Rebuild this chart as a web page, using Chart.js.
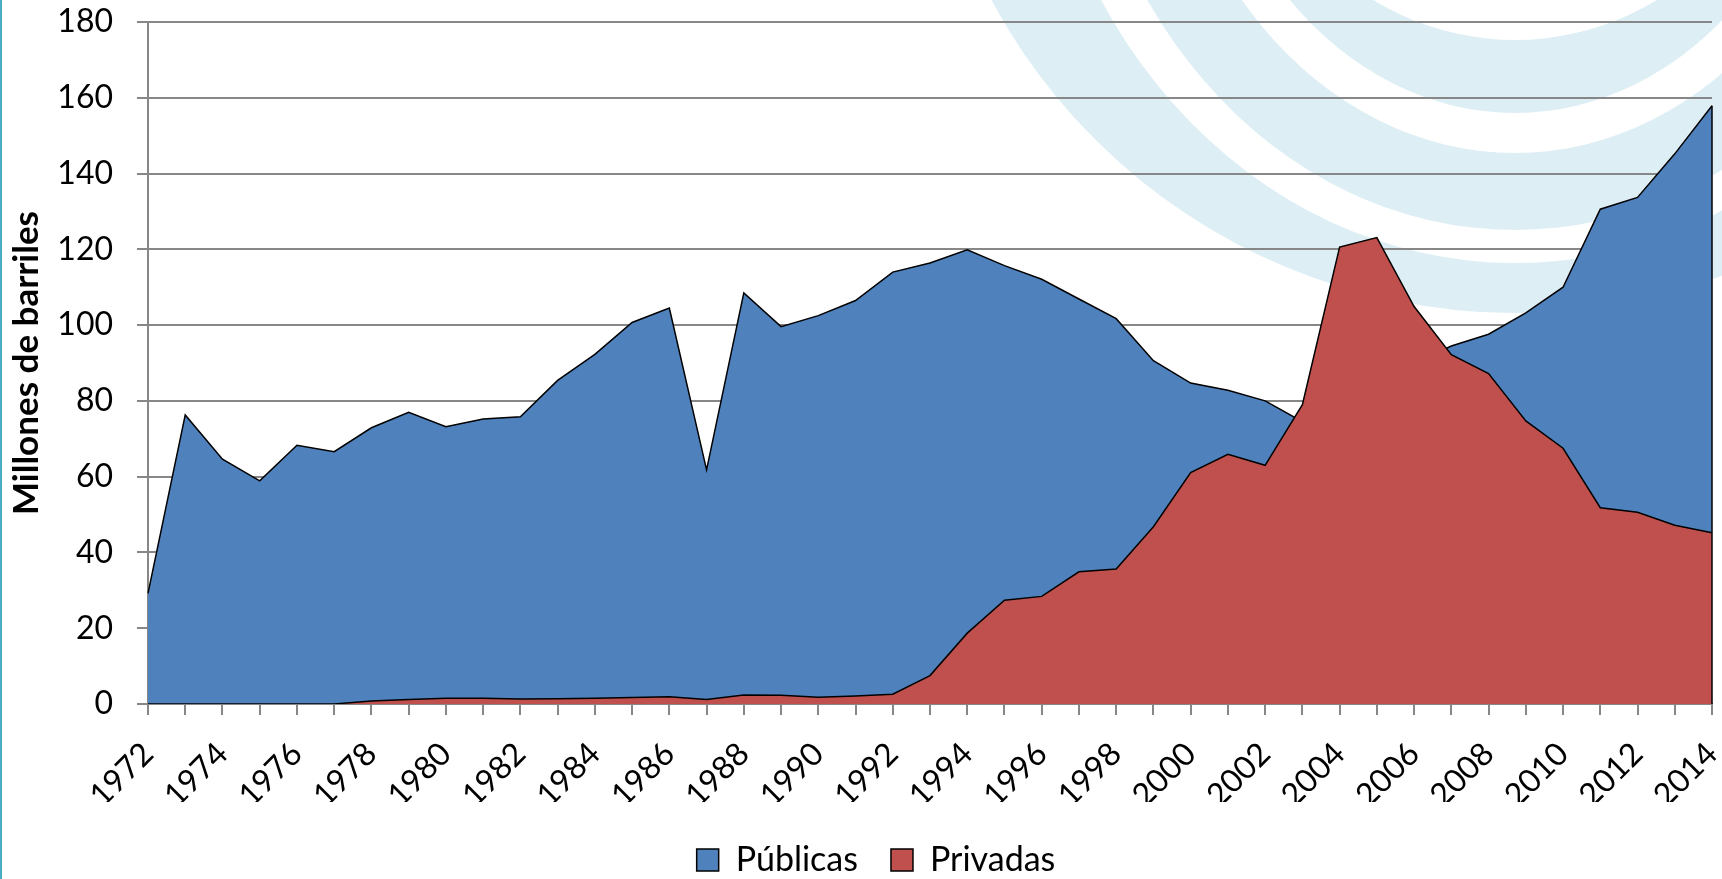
<!DOCTYPE html>
<html><head><meta charset="utf-8">
<script src="https://cdn.jsdelivr.net/npm/chart.js@4.4.0/dist/chart.umd.min.js"></script>
<style>html,body{margin:0;padding:0;background:#fff;}canvas{display:block;}</style>
</head><body>
<canvas id="c" width="1722" height="879"></canvas>
<script>
// ---- data ----
const years = ["1972","1973","1974","1975","1976","1977","1978","1979","1980","1981","1982","1983","1984","1985","1986","1987","1988","1989","1990","1991","1992","1993","1994","1995","1996","1997","1998","1999","2000","2001","2002","2003","2004","2005","2006","2007","2008","2009","2010","2011","2012","2013","2014"];
const publicas = [29.2,76.3,64.6,58.9,68.3,66.6,72.9,77.0,73.2,75.2,75.8,85.4,92.3,100.7,104.5,61.8,108.5,99.6,102.5,106.5,114.0,116.4,119.9,115.7,112.1,106.9,101.7,90.6,84.7,82.8,80.0,74.5,78.0,84.0,90.0,94.5,97.6,103.2,110.0,130.6,133.7,145.2,157.9];
const privadas = [0,0,0,0,0,0,0.8,1.2,1.5,1.5,1.3,1.4,1.5,1.7,1.9,1.2,2.4,2.3,1.8,2.1,2.6,7.5,18.7,27.4,28.4,34.9,35.6,46.8,61.1,65.9,63.0,79.0,120.6,123.1,104.9,92.2,87.2,74.7,67.5,51.8,50.6,47.2,45.2];
const xTickLabels = ["1972","1974","1976","1978","1980","1982","1984","1986","1988","1990","1992","1994","1996","1998","2000","2002","2004","2006","2008","2010","2012","2014"];
const yTickValues = [0,20,40,60,80,100,120,140,160,180];
const seriesNames = ["Públicas","Privadas"];
const yTitle = "Millones de barriles";

Chart.defaults.font.family = "Lato, 'Liberation Sans', sans-serif";
Chart.defaults.color = "#000";

const GRID = "#878787";
const PLOT_BOTTOM = 704, PLOT_LEFT = 148, LEGEND_SHIFT_Y = 8, LEGEND_SHIFT_X = 20;

const background = {
  id: "background",
  afterLayout(chart) {
    const lg = chart.legend;
    if (lg) {
      lg.top += LEGEND_SHIFT_Y; lg.bottom += LEGEND_SHIFT_Y;
      lg.left += LEGEND_SHIFT_X; lg.right += LEGEND_SHIFT_X;
    }
  },
  beforeDraw(chart) {
    const ctx = chart.ctx;
    ctx.save();
    ctx.fillStyle = "#fff";
    ctx.fillRect(0, 0, chart.width, chart.height);
    // faint watermark rings
    ctx.fillStyle = "#ddeef5";
    const cx = 1515, cy = -280;
    const bands = [
      [[594, 593], [483, 543]],
      [[440, 510], [358, 433]],
      [[321, 393], [293, 320]]
    ];
    for (const [o, i] of bands) {
      ctx.beginPath();
      ctx.ellipse(cx, cy, o[0], o[1], 0, 0, Math.PI * 2);
      ctx.moveTo(cx + i[0], cy);
      ctx.ellipse(cx, cy, i[0], i[1], 0, 0, Math.PI * 2);
      ctx.fill("evenodd");
    }
    ctx.restore();
  },
  afterDatasetsDraw(chart) {
    const ctx = chart.ctx;
    const m = chart.getDatasetMeta(0);
    const last = m.data[m.data.length - 1];
    const y0 = chart.scales.y.getPixelForValue(0);
    ctx.save();
    ctx.strokeStyle = "#000";
    ctx.lineWidth = 1.5;
    ctx.beginPath();
    ctx.moveTo(last.x, last.y);
    ctx.lineTo(last.x, y0);
    ctx.stroke();
    ctx.restore();
  },
  afterDraw(chart) {
    const ctx = chart.ctx;
    ctx.save();
    ctx.fillStyle = "#4bacc6";
    ctx.fillRect(0, 0, 2, chart.height);
    ctx.restore();
  }
};

new Chart(document.getElementById("c"), {
  type: "line",
  data: {
    labels: years,
    datasets: [
      { label: seriesNames[0], data: publicas, order: 1, fill: "origin",
        backgroundColor: "#4f81bd", borderColor: "#000", borderWidth: 1.5,
        pointRadius: 0, tension: 0 },
      { label: seriesNames[1], data: privadas, order: 0, fill: "origin",
        backgroundColor: "#c0504d", borderColor: "#000", borderWidth: 1.5,
        pointRadius: 0, tension: 0 }
    ]
  },
  options: {
    responsive: false,
    animation: false,
    devicePixelRatio: 1,
    layout: { padding: { left: 0, right: 10, top: 22, bottom: 0 } },
    plugins: {
      tooltip: { enabled: false },
      legend: {
        position: "bottom",
        labels: {
          font: { size: 34 },
          boxWidth: 22, boxHeight: 22, padding: 33,
          sort: (a, b) => a.datasetIndex - b.datasetIndex
        }
      }
    },
    scales: {
      x: {
        offset: false,
        grid: { display: true, drawOnChartArea: false, drawTicks: true, tickLength: 11, color: GRID, lineWidth: 2 },
        border: { display: true, color: GRID, width: 2 },
        ticks: {
          autoSkip: false, maxRotation: 45, minRotation: 45, padding: 20,
          font: { size: 32 },
          callback: function (v) { const l = this.getLabelForValue(v); return xTickLabels.includes(l) ? l : ""; }
        },
        afterFit(scale) {
          const lg = scale.chart.legend ? scale.chart.legend.height : 0;
          scale.height = scale.chart.height - PLOT_BOTTOM - lg;
          scale.paddingLeft = 0; scale.paddingRight = 0;
        }
      },
      y: {
        min: 0, max: 180,
        afterBuildTicks(scale) { scale.ticks = yTickValues.map(v => ({ value: v })); },
        grid: { color: GRID, lineWidth: 2, tickLength: 11, drawTicks: true },
        border: { display: true, color: GRID, width: 2 },
        ticks: { padding: 24, font: { size: 32 } },
        title: { display: true, text: yTitle, font: { size: 35, weight: "bold" }, padding: { top: 6, bottom: 0 } },
        afterFit(scale) { scale.width = PLOT_LEFT; scale.paddingTop = 0; scale.paddingBottom = 0; }
      }
    }
  },
  plugins: [background]
});
</script>
</body></html>
